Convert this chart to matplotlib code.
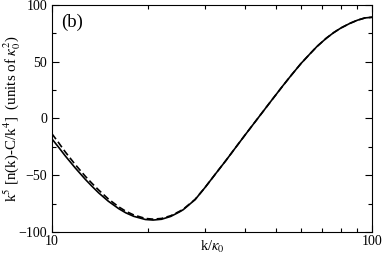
import matplotlib
matplotlib.use("Agg")
import matplotlib.pyplot as plt
from matplotlib.ticker import FixedLocator, FixedFormatter, MultipleLocator, NullFormatter

plt.rcParams['font.family'] = ['Liberation Serif', 'DejaVu Serif']
plt.rcParams['mathtext.fontset'] = 'stix'

# k / kappa_0 sample points
k_vals = [10, 10.5, 11, 11.8, 12.7, 13.3, 14, 15, 16.16, 17, 18, 19.57, 20.7,
          22, 23.5, 25, 25.7, 28, 30, 32.7, 35, 37.5, 40, 41.6, 44.7, 48,
          52.8, 56, 60, 64, 67.2, 72, 76, 80, 85.4, 90, 95, 100]

# solid curve
v_solid = [-18, -25.5, -32.9, -43.3, -53.5, -59.4, -65.6, -72.9, -79.45, -83.1,
           -86.2, -89, -89.5, -88.8, -86.3, -82.4, -80.4, -71.5, -61.2, -47.5,
           -36.8, -25.5, -15, -8.7, 2.8, 14.2, 29.3, 38.3, 48.5, 57, 63.3, 70.8,
           75.8, 79.8, 83.9, 86.6, 88.6, 89.2]

# dashed curve
v_dash = [-13.5, -21.5, -29.4, -40.3, -50.8, -56.8, -63.1, -70.9, -77.85, -81.7,
          -85, -88.1, -88.7, -88.1, -85.7, -81.9, -80, -71.3, -61.2, -47.5,
          -36.8, -25.5, -15, -8.7, 2.8, 14.2, 29.3, 38.3, 48.5, 57, 63.3, 70.8,
          75.8, 79.8, 83.9, 86.6, 88.6, 89.2]

fig = plt.figure(figsize=(3.82, 2.63), dpi=100)
ax = fig.add_axes([0.136, 0.118, 0.838, 0.863])

ax.plot(k_vals, v_solid, color='black', lw=1.2)
ax.plot(k_vals, v_dash, color='black', lw=1.2, dashes=(4, 2))

ax.set_xscale('log')
ax.set_xlim(10, 100)
ax.set_ylim(-100, 100)
ax.xaxis.set_major_locator(FixedLocator([10, 100]))
ax.xaxis.set_major_formatter(FixedFormatter(['10', '100']))
ax.xaxis.set_minor_locator(FixedLocator([20, 30, 40, 50, 60, 70, 80, 90]))
ax.xaxis.set_minor_formatter(NullFormatter())
ax.yaxis.set_major_locator(MultipleLocator(50))
ax.yaxis.set_minor_locator(MultipleLocator(25))

ax.tick_params(which='both', direction='in', top=True, right=True, labelsize=10)
ax.tick_params(which='major', length=5, width=0.8)
ax.tick_params(which='minor', length=3, width=0.8)
ax.tick_params(axis='x', pad=2)

ax.set_xlabel(r'k/$\kappa_0$', fontsize=10.5)
ax.xaxis.set_label_coords(0.5, -0.03)
ax.set_ylabel(r'k$^5$ [n(k)-C/k$^4$]  (units of $\kappa_0^2$)', fontsize=10.8)
ax.yaxis.set_label_coords(-0.09, 0.5)
ax.text(0.03, 0.925, '(b)', transform=ax.transAxes, fontsize=13.5, va='center')

fig.savefig('out.png', dpi=100)
